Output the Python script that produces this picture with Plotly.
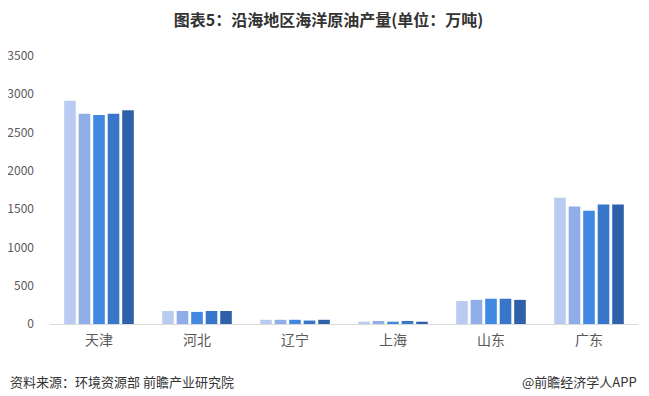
import plotly.graph_objects as go

categories = ["天津", "河北", "辽宁", "上海", "山东", "广东"]
series_names = ["系列1", "系列2", "系列3", "系列4", "系列5"]
s1 = [2915, 170, 55, 30, 300, 1650]
s2 = [2745, 170, 55, 40, 315, 1535]
s3 = [2730, 158, 55, 30, 330, 1480]
s4 = [2745, 170, 45, 40, 330, 1560]
s5 = [2790, 170, 55, 30, 315, 1560]
series_values = [s1, s2, s3, s4, s5]
colors = ["#BACBF1", "#8FADE8", "#4088E2", "#3776C9", "#2E61A9"]
y_ticks = [0, 500, 1000, 1500, 2000, 2500, 3000, 3500]

# page body has an 8px margin, so the figure is sized to the visible area
W, H = 641, 388
L, R, T, B = 42, 11, 48, 72
PW, PH = W - L - R, H - T - B

fig = go.Figure()
for name, vals, c in zip(series_names, series_values, colors):
    fig.add_trace(go.Bar(x=categories, y=vals, name=name, marker_color=c,
                         marker_line_width=0, showlegend=False))

font_family = "Noto Sans CJK SC, Microsoft YaHei, sans-serif"
fig.update_layout(
    width=W, height=H,
    margin=dict(l=L, r=R, t=T, b=B, autoexpand=False),
    paper_bgcolor="white", plot_bgcolor="white",
    barmode="group", bargap=0.26, bargroupgap=0.2,
    font=dict(family=font_family, size=13, color="#595959"),
    title=dict(text="<b>图表5：沿海地区海洋原油产量(单位：万吨)</b>", x=0.5, xanchor="center",
               xref="container", yref="container",
               y=1 - 12 / H, yanchor="middle", font=dict(size=16, color="#333333", family=font_family)),
    xaxis=dict(showline=True, linecolor="#D9D9D9", linewidth=1, ticks="", automargin=False,
               tickfont=dict(size=14, color="#595959"), showgrid=False, ticklabelstandoff=3),
    yaxis=dict(range=[0, 3500], tickvals=y_ticks, showgrid=False, zeroline=False, automargin=False,
               showline=False, tickfont=dict(size=12, color="#595959"), ticklabelstandoff=15),
)
fig.add_annotation(text="资料来源：环境资源部 前瞻产业研究院", xref="paper", yref="paper",
                   x=(0 - L) / PW, y=-57 / PH, xanchor="left", yanchor="middle", showarrow=False,
                   font=dict(size=13, color="#333333"))
fig.add_annotation(text="@前瞻经济学人APP", xref="paper", yref="paper",
                   x=(W - 10 - L) / PW, y=-57 / PH, xanchor="right", yanchor="middle", showarrow=False,
                   font=dict(size=13, color="#333333"))
fig.write_html("out.html")
